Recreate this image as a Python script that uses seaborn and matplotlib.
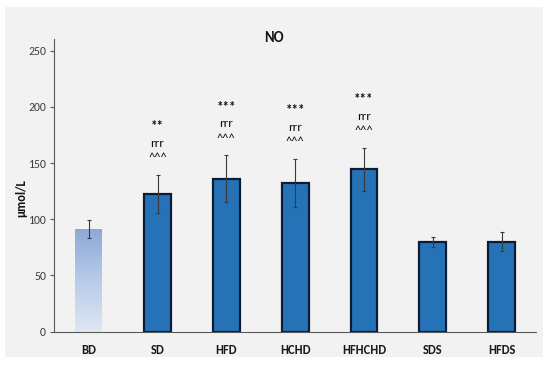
import matplotlib
matplotlib.use("Agg")
import matplotlib.pyplot as plt
import matplotlib.colors as mcolors
import seaborn as sns
import numpy as np

# data
groups = ["BD", "SD", "HFD", "HCHD", "HFHCHD", "SDS", "HFDS"]
means = [91, 122.5, 136, 132.5, 144.5, 79.5, 80]
errors = [8, 17, 21, 21.5, 19, 4.5, 8.5]
stars = ["", "**", "***", "***", "***", "", ""]
r_marks = ["", "rrr", "rrr", "rrr", "rrr", "", ""]
caret_marks = ["", "^^^", "^^^", "^^^", "^^^", "", ""]

sns.set_style("white")
plt.rcParams["font.family"] = ["Carlito", "DejaVu Sans"]

bg = "#f2f2f2"
fig = plt.figure(figsize=(5.5, 3.65), dpi=100, facecolor="white")
# grey chart area with thin white margin
fig.patches.append(plt.Rectangle((5 / 550, 1 - 357 / 365), 538 / 550, 350 / 365,
                                 transform=fig.transFigure, facecolor=bg,
                                 edgecolor="none", zorder=-10))
ax = fig.add_axes([54.3 / 550, 1 - 331.7 / 365, 481.7 / 550, 292.4 / 365])
ax.set_facecolor(bg)

sns.barplot(x=groups, y=means, ax=ax, width=0.39, color="#2672b6",
            edgecolor="#0c1c36", linewidth=1.6, saturation=1, errorbar=None)

# BD bar: light gradient fill, no dark border
bd = ax.patches[0]
bd.set_facecolor("none")
bd.set_edgecolor("none")
x0, y0 = bd.get_x(), bd.get_y()
w, h = bd.get_width(), bd.get_height()
cmap = mcolors.LinearSegmentedColormap.from_list("bd", ["#dfe7f4", "#b8cbe8", "#8ea9d7"])
grad = np.linspace(0, 1, 256).reshape(-1, 1)
im = ax.imshow(grad, extent=[x0, x0 + w, y0, y0 + h], origin="lower",
               cmap=cmap, aspect="auto", zorder=bd.get_zorder())
im.set_clip_path(bd)

xs = np.arange(len(groups))
ax.errorbar(xs, means, yerr=errors, fmt="none", ecolor="#3a3a3a",
            elinewidth=0.8, capsize=1.6, capthick=0.8, zorder=5)

for i in range(len(groups)):
    top = means[i] + errors[i]
    ax.text(i, top + 15, caret_marks[i], ha="center", va="center",
            fontsize=9, color="#111111")
    ax.text(i, top + 28, r_marks[i], ha="center", va="center",
            fontsize=9.5, color="#111111")
    ax.text(i, top + 43, stars[i], ha="center", va="center",
            fontsize=9.5, color="#111111", fontweight="bold")

ax.set_xlim(-0.5, len(groups) - 0.5)
ax.set_ylim(0, 260)
ax.set_yticks([0, 50, 100, 150, 200, 250])
ax.tick_params(axis="y", labelsize=8.5, labelcolor="#404040", length=3,
               width=0.8, color="#595959", pad=3, left=True)
ax.tick_params(axis="x", length=0, pad=9, labelsize=9)
for lab in ax.get_xticklabels():
    lab.set_fontweight("bold")
    lab.set_color("#1a1a1a")
ax.set_xlabel("")
ax.set_ylabel("")
for s in ["top", "right"]:
    ax.spines[s].set_visible(False)
for s in ["left", "bottom"]:
    ax.spines[s].set_color("#595959")
    ax.spines[s].set_linewidth(0.8)

fig.text(274 / 550, 1 - 38 / 365, "NO", ha="center", va="center",
         fontsize=10.5, fontweight="bold", color="#111111")
fig.text(21 / 550, 1 - 198 / 365, "μmol/L", ha="center", va="center",
         rotation=90, fontsize=9, fontweight="bold", color="#111111")

fig.savefig("out.png", dpi=100, facecolor="white")
